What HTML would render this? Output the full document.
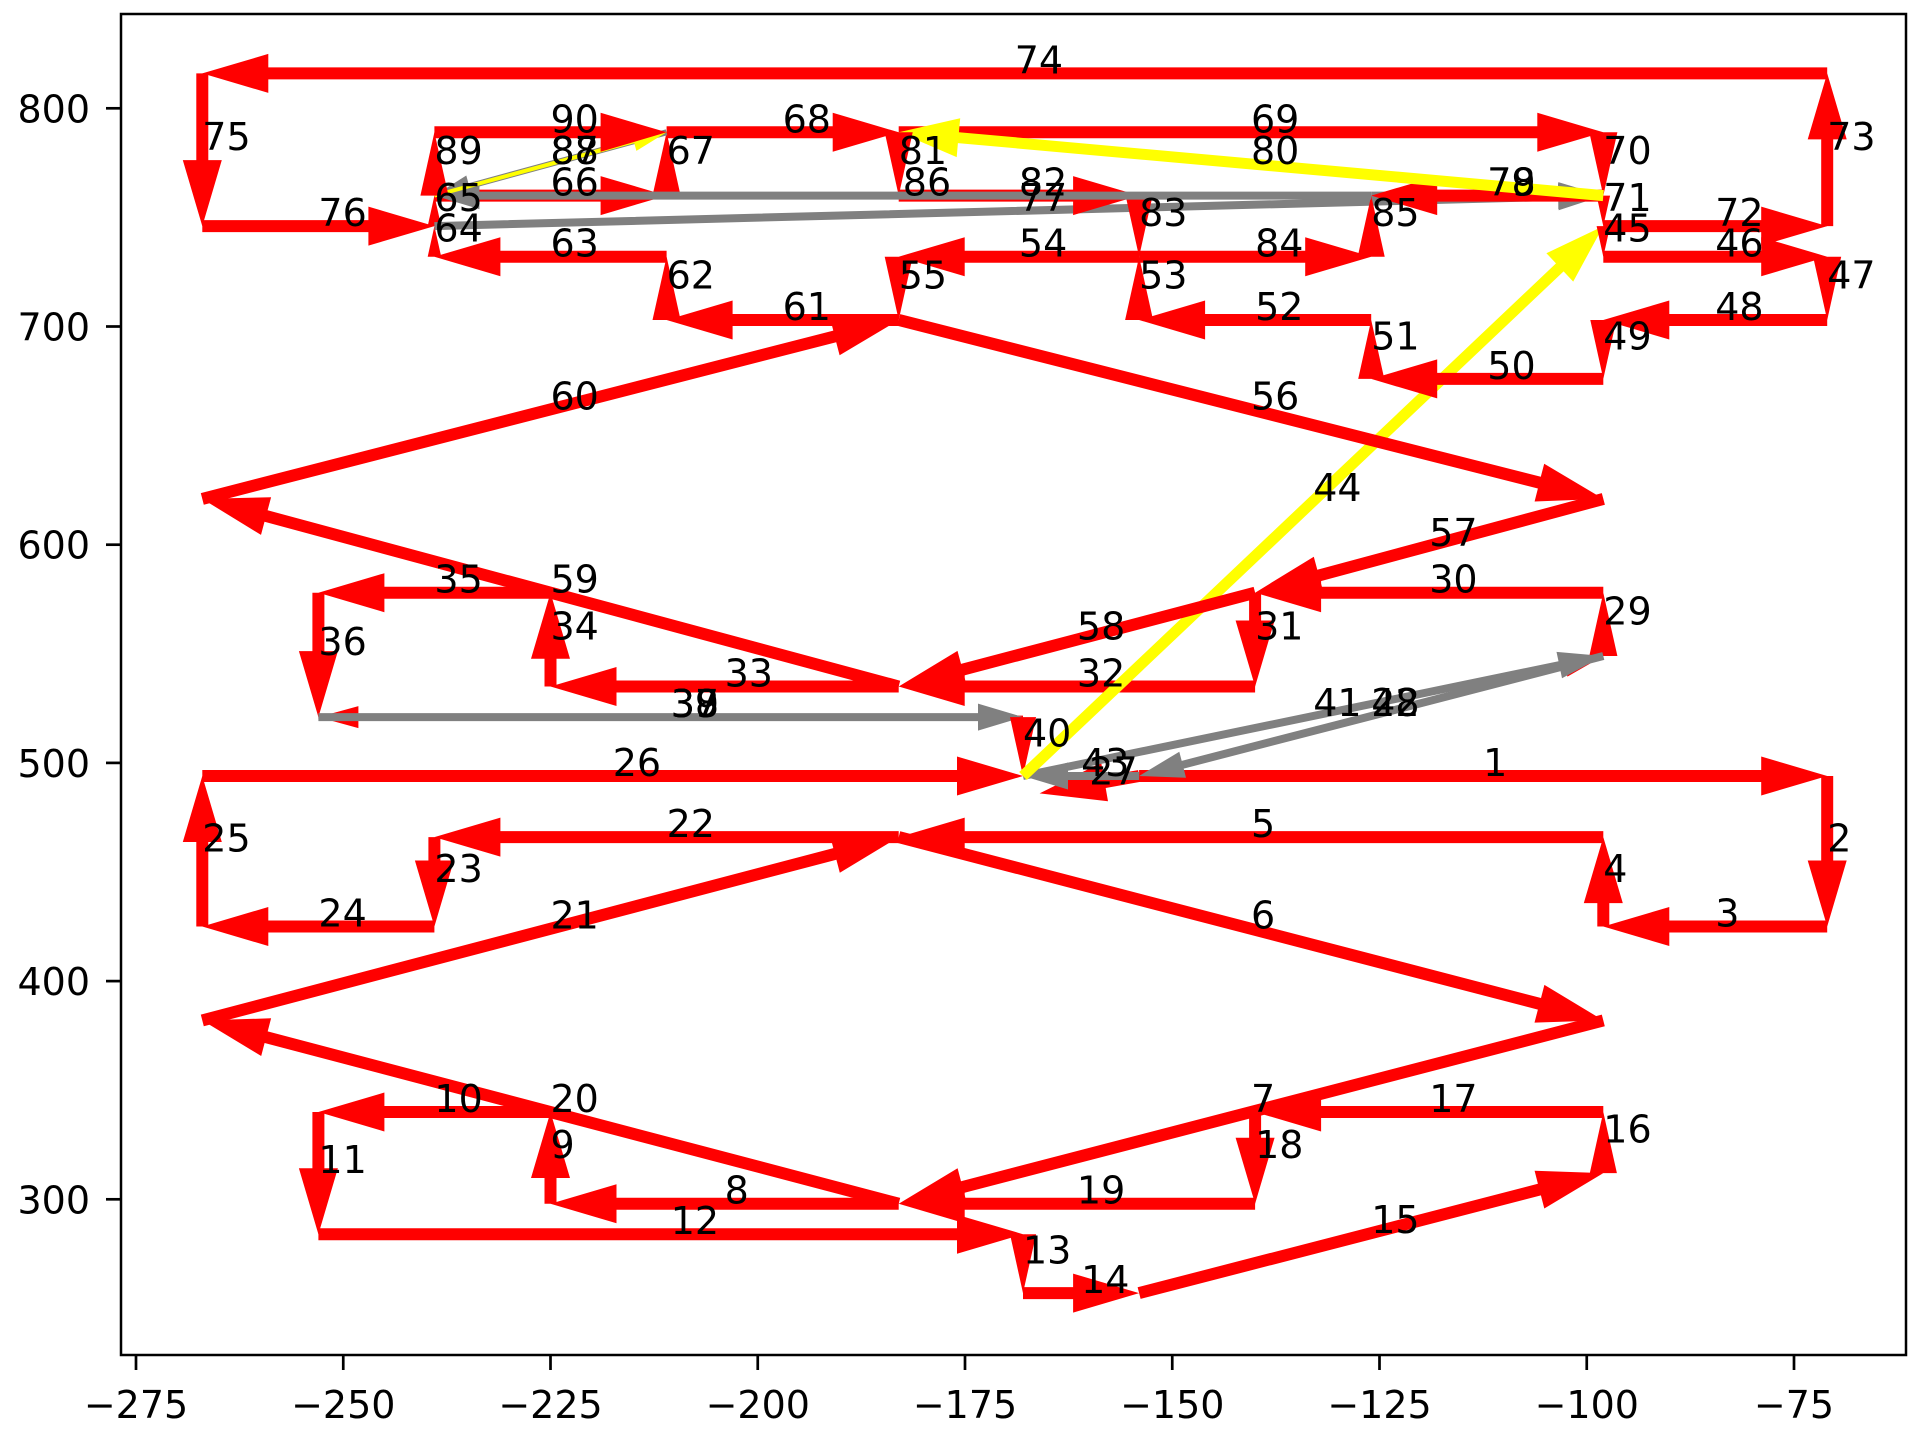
<!DOCTYPE html>
<html><head><meta charset="utf-8"><style>
html,body{margin:0;padding:0;background:#fff;}
svg{display:block;}
text{font-family:"DejaVu Sans","Liberation Sans",sans-serif;}
</style></head>
<body>
<svg id="chart" width="1920" height="1440" viewBox="0 0 1920 1440" xmlns="http://www.w3.org/2000/svg">
<rect x="0" y="0" width="1920" height="1440" fill="#fff"/>
<g id="marks"></g>
<g id="axes"></g>
</svg>
<script>
// ---- data (x in data units, y in data units) ----
const fromX = [-154,-71,-71,-98,-98,-183,-98,-183,-225,-225,-253,-253,-168,-168,-154,-98,-98,-140,-140,-183,-267,-183,-239,-239,-267,-267,-154,-154,-98,-98,-140,-140,-183,-225,-225,-253,-253,-168,-253,-168,-168,-98,-154,-168,-98,-98,-71,-71,-98,-98,-126,-126,-154,-154,-183,-183,-98,-140,-183,-267,-183,-211,-211,-239,-239,-239,-211,-211,-183,-98,-98,-98,-71,-71,-267,-267,-239,-126,-98,-98,-183,-183,-154,-154,-126,-126,-211,-239,-239,-239];
const fromY = [494,494,425,425,466,466,382,298,298,340,340,284,284,257,257,312,340,340,298,298,382,466,466,425,425,494,494,494,549,578,578,535,535,535,578,578,521,521,521,521,494,549,494,494,746,732,732,703,703,676,676,703,703,732,732,703,621,578,535,621,703,703,732,732,746,760,760,789,789,789,760,746,746,816,816,746,746,760,760,760,789,760,760,732,732,760,789,760,760,789];
const toX   = [-71,-71,-98,-98,-183,-98,-183,-225,-225,-253,-253,-168,-168,-154,-98,-98,-140,-140,-183,-267,-183,-239,-239,-267,-267,-168,-166,-98,-98,-140,-140,-183,-225,-225,-253,-253,-168,-253,-168,-168,-98,-154,-168,-98,-98,-71,-71,-98,-98,-126,-126,-154,-154,-183,-183,-98,-140,-183,-267,-183,-211,-211,-239,-239,-239,-211,-211,-183,-98,-98,-98,-71,-71,-267,-267,-239,-98,-98,-126,-183,-183,-154,-154,-126,-126,-239,-239,-211,-239,-211];
const toY   = [494,425,425,466,466,382,298,298,340,340,284,284,257,257,312,340,340,298,298,382,466,466,425,425,494,494,486,549,578,578,535,535,535,578,578,521,521,521,521,494,549,494,494,746,732,732,703,703,676,676,703,703,732,732,703,621,578,535,621,703,703,732,732,746,760,760,789,789,789,760,746,746,816,816,746,746,760,760,760,789,760,760,732,732,760,760,760,789,789,789];
// style key per arrow: r=red, t=thin red, g=grey, s=small grey, y=yellow, w=thin yellow
const styles = "r".repeat(27) + "t" + "r".repeat(8) + "tt" + "g" + "r" + "ggg" + "y" +
               "r".repeat(32) + "ggry" + "r".repeat(5) + "gsw" + "rr";
const xTicks = [-275,-250,-225,-200,-175,-150,-125,-100,-75];
const yTicks = [300,400,500,600,700,800];

// ---- scales ----
function sx(v){ return 136 + (v + 275) * 8.29; }
function sy(v){ return 108.3 + (800 - v) * 2.182; }

const STY = {
  r:{c:'#ff0000', w:12, hw:39, hl:66},
  t:{c:'#ff0000', w:3,  hw:22, hl:40},
  g:{c:'#808080', w:8,  hw:27, hl:45},
  s:{c:'#808080', w:6,  hw:22, hl:36},
  y:{c:'#ffff00', w:11, hw:39, hl:60},
  w:{c:'#ffff00', w:4,  hw:20, hl:34}
};
const NS = 'http://www.w3.org/2000/svg';
const marks = document.getElementById('marks');
const labelsG = document.createElementNS(NS,'g');



for (let i = 0; i < fromX.length; i++) {
  const st = STY[styles[i]] || STY.r;
  const x1 = sx(fromX[i]), y1 = sy(fromY[i]), x2 = sx(toX[i]), y2 = sy(toY[i]);
  const dx = x2 - x1, dy = y2 - y1, L = Math.hypot(dx, dy);
  if (L > 0) {
    const ux = dx / L, uy = dy / L, nx = -uy, ny = ux;
    let hl = st.hl, hw = st.hw;
    if (L < hl) { hw = hw * (L / hl) * 0.75; hl = L; }
    const bx = x2 - ux * hl, by = y2 - uy * hl;
    const a = st.w / 2, h = hw / 2;
    const pts = [
      [x1 + nx*a, y1 + ny*a],[bx + nx*a, by + ny*a],[bx + nx*h, by + ny*h],
      [x2, y2],[bx - nx*h, by - ny*h],[bx - nx*a, by - ny*a],[x1 - nx*a, y1 - ny*a]
    ];
    const p = document.createElementNS(NS,'polygon');
    p.setAttribute('points', pts.map(q => q[0].toFixed(1)+','+q[1].toFixed(1)).join(' '));
    p.setAttribute('fill', st.c);
    
    
    marks.appendChild(p);
  }
  const t = document.createElementNS(NS,'text');
  t.setAttribute('x', ((x1 + x2) / 2).toFixed(1));
  t.setAttribute('y', ((y1 + y2) / 2).toFixed(1));
  t.setAttribute('font-size','38');
  t.setAttribute('fill','#000');
  
  
  t.textContent = String(i + 1);
  labelsG.appendChild(t);
}
marks.appendChild(labelsG);

// ---- axes ----
const axes = document.getElementById('axes');
const frame = document.createElementNS(NS,'rect');
frame.setAttribute('x','121'); frame.setAttribute('y','14');
frame.setAttribute('width','1785'); frame.setAttribute('height','1341');
frame.setAttribute('fill','none'); frame.setAttribute('stroke','#000'); frame.setAttribute('stroke-width','2.5');


axes.appendChild(frame);

xTicks.forEach(v => {
  const x = sx(v);
  const l = document.createElementNS(NS,'line');
  l.setAttribute('x1',x); l.setAttribute('x2',x); l.setAttribute('y1',1355); l.setAttribute('y2',1370);
  l.setAttribute('stroke','#000'); l.setAttribute('stroke-width','2.7');
  
  
  axes.appendChild(l);
  const t = document.createElementNS(NS,'text');
  t.setAttribute('x',x); t.setAttribute('y',1418); t.setAttribute('text-anchor','middle');
  t.setAttribute('font-size','38');
  
  
  t.textContent = (v < 0 ? '\u2212' : '') + Math.abs(v);
  axes.appendChild(t);
});
yTicks.forEach(v => {
  const y = sy(v);
  const l = document.createElementNS(NS,'line');
  l.setAttribute('x1',106); l.setAttribute('x2',121); l.setAttribute('y1',y); l.setAttribute('y2',y);
  l.setAttribute('stroke','#000'); l.setAttribute('stroke-width','2.7');
  
  
  axes.appendChild(l);
  const t = document.createElementNS(NS,'text');
  t.setAttribute('x',90); t.setAttribute('y',y + 14); t.setAttribute('text-anchor','end');
  t.setAttribute('font-size','38');
  
  
  t.textContent = String(v);
  axes.appendChild(t);
});
</script>
</body></html>
